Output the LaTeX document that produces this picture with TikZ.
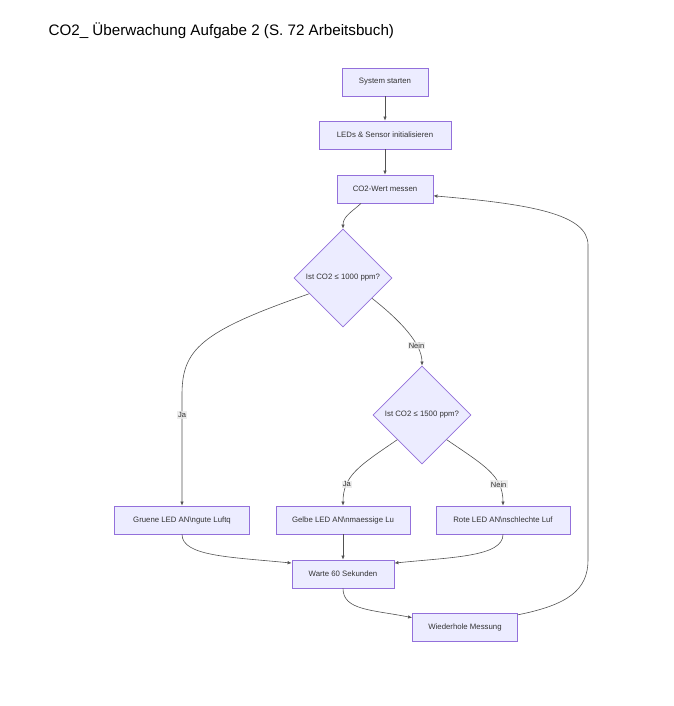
\documentclass[tikz,border=0pt]{standalone}
\usepackage{fontspec}
\setmainfont{Liberation Sans}
\usetikzlibrary{shapes.geometric,arrows.meta}

\definecolor{boxfill}{HTML}{ECECFF}
\definecolor{boxline}{HTML}{9370DB}
\definecolor{edgeline}{HTML}{333333}
\definecolor{labelbg}{HTML}{E8E8E8}

\tikzset{
  stepbox/.style = {draw=boxline, fill=boxfill, text=edgeline, line width=0.8pt,
    font=\fontsize{7.8}{9}\selectfont, minimum height=28pt, inner sep=2pt},
  decision/.style = {diamond, draw=boxline, fill=boxfill, text=edgeline, line width=0.8pt,
    font=\fontsize{7.8}{9}\selectfont, aspect=1, inner sep=0pt, minimum width=98pt, minimum height=98pt},
  flow/.style = {draw=edgeline!85, line width=0.6pt, -{Latex[length=4pt,width=3.5pt]}},
  edgelabel/.style = {fill=labelbg, fill opacity=0.8, text opacity=1, text=edgeline,
    font=\fontsize{7.5}{8}\selectfont, inner sep=1.2pt}
}

\begin{document}
\begin{tikzpicture}[x=1pt, y=-1pt]
  \useasboundingbox (0,0) rectangle (673,706);
  \node [anchor=west, font=\fontsize{15.2}{17}\selectfont] (title) at (45,31)
    {CO2\_ Überwachung Aufgabe 2 (S. 72 Arbeitsbuch)};

  % main column
  \node [stepbox, minimum width=86pt] (start) at (385,82) {System starten};
  \node [stepbox, minimum width=132pt] (init) at (385,135) {LEDs \& Sensor initialisieren};
  \node [stepbox, minimum width=96pt] (measure) at (385,189) {CO2-Wert messen};
  \node [decision] (check1) at (343,278) {Ist CO2 ≤ 1000 ppm?};
  \node [decision] (check2) at (422,415) {Ist CO2 ≤ 1500 ppm?};

  % LED boxes
  \node [stepbox, minimum width=135pt] (green) at (182,520) {Gruene LED AN\textbackslash ngute Luftq};
  \node [stepbox, minimum width=134pt] (yellow) at (343,520) {Gelbe LED AN\textbackslash nmaessige Lu};
  \node [stepbox, minimum width=134pt] (red) at (503,520) {Rote LED AN\textbackslash nschlechte Luf};

  \node [stepbox, minimum width=102pt] (wait) at (343,574) {Warte 60 Sekunden};
  \node [stepbox, minimum width=105pt] (repeat) at (465,627) {Wiederhole Messung};

  % connectors
  \draw [flow] (start) -- (init);
  \draw [flow] (init) -- (measure);
  \draw [flow] (measure.211) .. controls +(-10,9) and +(0,-12) .. (check1.north);
  \draw [flow] (check1.205) .. controls +(-110,38) and +(0,-45) .. (182,395)
    -- (green.north) node [edgelabel, pos=0.18] (yes1) {Ja};
  \draw [flow] (check1.325) .. controls +(28,22) and +(0,-22) .. (check2.north)
    node [edgelabel, pos=0.7] (no1) {Nein};
  \draw [flow] (check2.225) .. controls +(-38,26) and +(0,-30) .. (yellow.north)
    node [edgelabel, pos=0.72] (yes2) {Ja};
  \draw [flow] (check2.315) .. controls +(38,26) and +(0,-30) .. (red.north)
    node [edgelabel, pos=0.72] (no2) {Nein};
  \draw [flow] (green.south) .. controls +(0,22) and +(-60,-6) .. (wait.168);
  \draw [flow] (yellow) -- (wait);
  \draw [flow] (red.south) .. controls +(0,22) and +(60,-6) .. (wait.12);
  \draw [flow] (wait.south) .. controls +(0,22) and +(-40,-8) .. (repeat.170);
  \draw [flow] (repeat.13) .. controls +(50,-10) and +(0,30) .. (588,560)
    -- (588,245) .. controls (588,214) and (530,204) .. (measure.352);
\end{tikzpicture}
\end{document}
